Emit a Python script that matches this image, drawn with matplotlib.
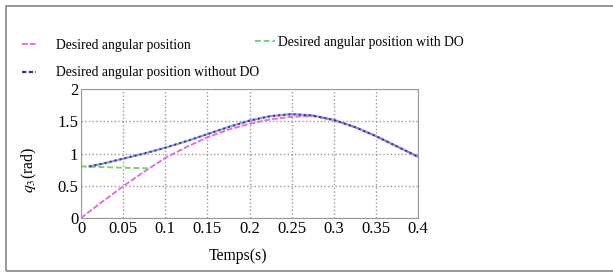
import numpy as np
import matplotlib
matplotlib.use("Agg")
import matplotlib.pyplot as plt
from matplotlib.patches import Rectangle

# === Data ===
t = [0, 0.025, 0.05, 0.075, 0.1, 0.125, 0.15, 0.175, 0.2, 0.225,
     0.25, 0.275, 0.3, 0.325, 0.35, 0.375, 0.4]
q_desired = [0, 0.25, 0.49, 0.72, 0.93, 1.10, 1.25, 1.37, 1.46, 1.53,
             1.57, 1.58, 1.52, 1.41, 1.27, 1.11, 0.95]
t_without = [0.01, 0.025, 0.05, 0.075, 0.1, 0.125, 0.15, 0.175, 0.2, 0.225,
             0.25, 0.275, 0.3, 0.325, 0.35, 0.375, 0.4]
q_without = [0.80, 0.84, 0.92, 1.00, 1.09, 1.19, 1.30, 1.41, 1.51, 1.58,
             1.61, 1.59, 1.52, 1.41, 1.27, 1.11, 0.95]
t_with = [0, 0.025, 0.05, 0.08]
q_with = [0.80, 0.79, 0.78, 0.77]

xticks = [0, 0.05, 0.1, 0.15, 0.2, 0.25, 0.3, 0.35, 0.4]
xticklabels = ["0", "0.05", "0.1", "0.15", "0.2", "0.25", "0.3", "0.35", "0.4"]
yticks = [0, 0.5, 1, 1.5, 2]
yticklabels = ["0", "0.5", "1", "1.5", "2"]

plt.rcParams['font.family'] = ['Liberation Serif', 'DejaVu Serif']
plt.rcParams['mathtext.fontset'] = 'stix'

W, H = 613, 279
fig = plt.figure(figsize=(W / 100, H / 100), dpi=100)
fig.patch.set_facecolor('white')

# outer frame
fig.add_artist(Rectangle((6 / W, 1 - 271 / H), 620 / W, 265 / H,
                         transform=fig.transFigure, fill=False,
                         edgecolor='#888888', linewidth=1.2))

ax = fig.add_axes([81 / W, 1 - 218 / H, 337 / W, 129 / H])

l1, = ax.plot(t, q_desired, color='#e070e0', linestyle='--', dashes=(3, 1), linewidth=1.4)
l3, = ax.plot(t_with, q_with, color='#70d870', linestyle='--', dashes=(3, 1.5), linewidth=1.4)
ax.plot(t_without, q_without, color='#8080e0', linewidth=1.6, alpha=0.8)
ax.plot(t_without, q_without, color='#303a80', linestyle=':', linewidth=1.4)

ax.set_xlim(0, 0.4)
ax.set_ylim(0, 2)
ax.set_xticks(xticks)
ax.set_xticklabels(xticklabels)
ax.set_yticks(yticks)
ax.set_yticklabels(yticklabels)
ax.tick_params(labelsize=12, length=0, pad=2)
ax.grid(True, linestyle=':', color='#999999', linewidth=1.0)
for s in ax.spines.values():
    s.set_color('#999999')

ax.set_xlabel('Temps(s)', fontsize=11.3)
ax.set_ylabel('$q_3$(rad)', fontsize=11.3)
ax.xaxis.set_label_coords(0.466, -0.233)
ax.yaxis.set_label_coords(-0.125, 0.37)

# legend entries placed like the reference
blue_handle = plt.Line2D([], [], color='#303a80', linestyle='--', dashes=(2, 1), linewidth=1.6)
leg_kw = dict(loc='upper left', frameon=False, fontsize=9.8, borderpad=0,
              borderaxespad=0)
fig.legend([l1, blue_handle],
           ['Desired angular position', 'Desired angular position without DO'],
           bbox_to_anchor=(22 / W, 1 - 39 / H), handlelength=1.0,
           handletextpad=1.5, labelspacing=1.05, **leg_kw)
fig.legend([l3], ['Desired angular position with DO'],
           bbox_to_anchor=(255 / W, 1 - 36 / H), handlelength=1.5,
           handletextpad=0.2, **leg_kw)

plt.savefig('out.png', dpi=100)
